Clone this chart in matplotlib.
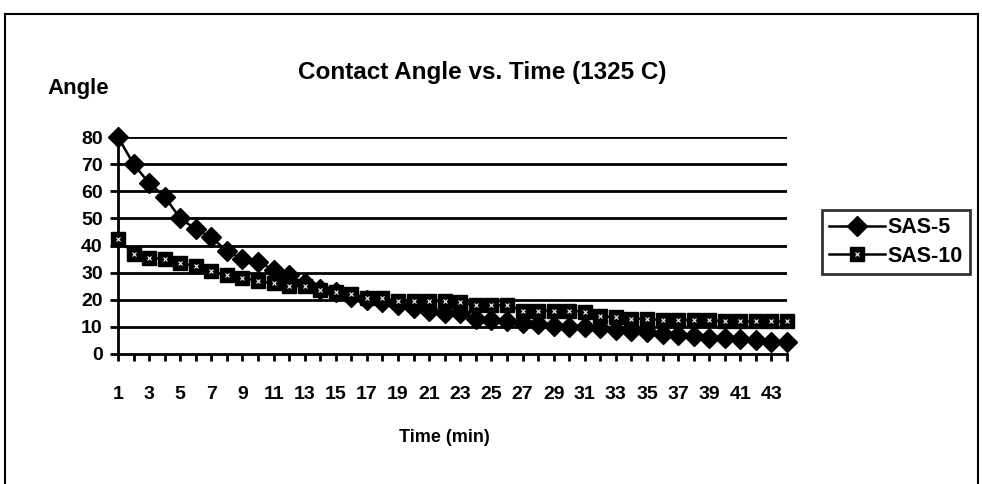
import matplotlib
matplotlib.use("Agg")
import matplotlib.pyplot as plt
from matplotlib.lines import Line2D
from matplotlib.legend_handler import HandlerTuple

plt.rcParams['font.family'] = ['Liberation Sans', 'DejaVu Sans']
plt.rcParams['font.weight'] = 'bold'

time_min = list(range(1, 45))
sas5 = [80, 70, 63, 58, 50, 46, 43, 38, 35, 34, 31, 29, 26, 24, 23, 21, 20, 19, 18, 17,
        16, 15, 15, 13, 12.5, 12, 11.5, 11, 10.5, 10, 10, 9.5, 9, 8.5, 8, 7.5, 7, 6.5,
        6, 6, 5.5, 5, 4.5, 4.5]
sas10 = [42.5, 37, 35.5, 35, 33.5, 32.5, 30.5, 29, 28, 27, 26, 25, 25, 23.5, 23, 22,
         20.5, 20.5, 19.5, 19.5, 19.5, 19.5, 19, 18, 18, 18, 16, 16, 16, 16, 15.5, 14,
         13.5, 13, 13, 12.5, 12.5, 12.5, 12.5, 12, 12, 12, 12, 12]
y_ticks = [0, 10, 20, 30, 40, 50, 60, 70, 80]
x_label_ticks = list(range(1, 44, 2))

W, H = 982, 484
fig = plt.figure(figsize=(W / 100, H / 100), dpi=100)
fig.patch.set_facecolor('white')

def fx(px):
    return px / W

def fy(py):
    return 1 - py / H

ax = fig.add_axes([fx(118), fy(354), fx(787) - fx(118), fy(137) - fy(354)])
ax.set_xlim(1, 44)
ax.set_ylim(0, 80)

for v in y_ticks[1:]:
    ax.axhline(v, color='black', lw=2.0, zorder=1)

ax.plot(time_min, sas5, color='black', lw=1.8, marker='D', markersize=10,
        markerfacecolor='black', markeredgecolor='black', zorder=3, clip_on=False)
ax.plot(time_min, sas10, color='black', lw=1.8, marker='s', markersize=10,
        markerfacecolor='black', markeredgecolor='black', zorder=4, clip_on=False)
ax.plot(time_min, sas10, linestyle='none', marker='x', markersize=3.5,
        markeredgecolor='white', markeredgewidth=0.8, zorder=5, clip_on=False)

for s in ['top', 'right']:
    ax.spines[s].set_visible(False)
for s in ['left', 'bottom']:
    ax.spines[s].set_linewidth(2.0)
    ax.spines[s].set_color('black')

ax.set_yticks(y_ticks)
ax.set_yticklabels([str(v) for v in y_ticks], fontsize=14, fontweight='bold')
ax.set_xticks(time_min)
ax.set_xticklabels([str(t) if t in x_label_ticks else '' for t in time_min],
                   fontsize=14, fontweight='bold')
ax.tick_params(axis='y', direction='out', length=6, width=2.0, pad=5)
ax.tick_params(axis='x', direction='out', length=5, width=2.0, pad=18)

fig.text(fx(482), fy(73), 'Contact Angle vs. Time (1325 C)', ha='center', va='center',
         fontsize=17.5, fontweight='bold')
fig.text(fx(47), fy(88), 'Angle', ha='left', va='center', fontsize=16, fontweight='bold')
fig.text(fx(444), fy(437), 'Time (min)', ha='center', va='center', fontsize=13,
         fontweight='bold')

h5 = Line2D([], [], color='black', lw=1.8, marker='D', markersize=10,
            markerfacecolor='black', markeredgecolor='black')
h10a = Line2D([], [], color='black', lw=1.8, marker='s', markersize=10,
              markerfacecolor='black', markeredgecolor='black')
h10b = Line2D([], [], linestyle='none', marker='x', markersize=3.5,
              markeredgecolor='white', markeredgewidth=0.8)
leg = fig.legend([h5, (h10a, h10b)], ['SAS-5', 'SAS-10'], loc='center',
                 bbox_to_anchor=(fx(896), fy(242)), frameon=True,
                 fancybox=False, handlelength=2.6, handletextpad=0.1,
                 borderpad=0.35, labelspacing=0.35, borderaxespad=0,
                 handler_map={tuple: HandlerTuple(ndivide=1, pad=0)},
                 prop={'weight': 'bold', 'size': 15.5})
leg.get_frame().set_edgecolor('black')
leg.get_frame().set_linewidth(2.0)

# outer chart border (top, left, right)
fig.add_artist(Line2D([fx(5), fx(978)], [fy(14), fy(14)], color='black', lw=1.5,
                      transform=fig.transFigure))
fig.add_artist(Line2D([fx(5), fx(5)], [fy(14), 0], color='black', lw=1.5,
                      transform=fig.transFigure))
fig.add_artist(Line2D([fx(978), fx(978)], [fy(14), 0], color='black', lw=1.5,
                      transform=fig.transFigure))

fig.savefig('out.png', dpi=100)
